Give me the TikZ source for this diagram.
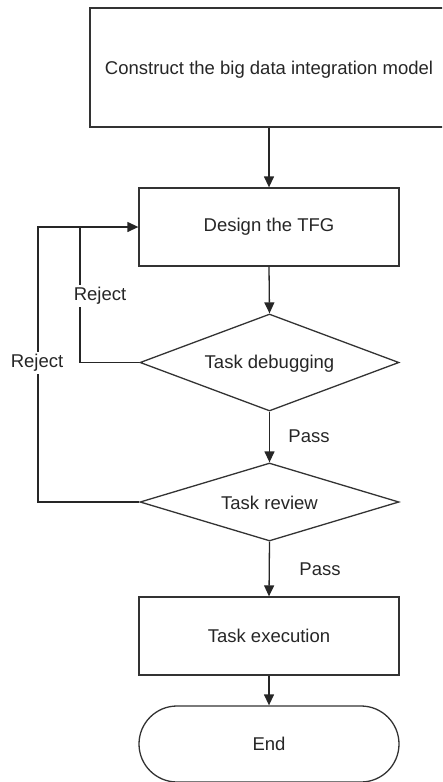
\documentclass[tikz,border=0pt]{standalone}
\usepackage{fontspec}
\setmainfont{Liberation Sans}
\usetikzlibrary{shapes.geometric,arrows.meta}
\begin{document}
\begin{tikzpicture}[x=1pt,y=-1pt,
  every node/.style={font=\fontsize{18.5}{22}\selectfont, text=black!85},
  boxnode/.style={draw=black!80, line width=1.3pt, rectangle, inner sep=0pt},
  decision/.style={draw=black!80, line width=1.3pt, diamond, inner sep=0pt},
  terminal/.style={draw=black!80, line width=1.3pt, rectangle, rounded corners=38pt, inner sep=0pt},
  flow/.style={draw=black!85, line width=1.3pt, -{Triangle[length=11pt,width=10pt]}},
  link/.style={draw=black!85, line width=1.3pt},
  tag/.style={fill=white, inner sep=2pt}]
\useasboundingbox (0,0) rectangle (442,782);
\clip (0,0) rectangle (442,782);

% process chain
\node[boxnode, minimum width=360pt, minimum height=119pt] (model) at (270,67.5) {};
\node (modeltext) at (269,70) {Construct the big data integration model};
\node[boxnode, minimum width=260pt, minimum height=78pt] (design) at (269,227) {Design the TFG};
\node[decision, minimum width=259pt, minimum height=97pt] (debug) at (269.5,362.5) {};
\node at (269.5,364) {Task debugging};
\node[decision, minimum width=259pt, minimum height=78pt] (review) at (269.5,502) {};
\node at (269.5,503) {Task review};
\node[boxnode, minimum width=260pt, minimum height=78pt] (exec) at (269,636) {Task execution};
\node[terminal, minimum width=260pt, minimum height=76pt] (finish) at (269,744) {End};

% main downward arrows
\draw[flow] (model.south -| design.north) -- (design.north);
\draw[flow] (design.south) -- (debug.north);
\draw[flow] (debug.south) -- (review.north);
\draw[flow] (review.south) -- (exec.north);
\draw[flow] (exec.south) -- (finish.north);

% feedback loops
\coordinate (outer) at (38,0);
\coordinate (inner) at (80,0);
\draw[flow] (review.west) -- (review.west -| outer) |- (design.west);
\draw[link] (debug.west) -- (debug.west -| inner) -- (design.west -| inner);

% labels
\node[tag] (rej1) at (100,296) {Reject};
\node[tag] (rej2) at (37,363) {Reject};
\node (pass1) at (309,436) {Pass};
\node (pass2) at (320,569) {Pass};
\end{tikzpicture}
\end{document}
